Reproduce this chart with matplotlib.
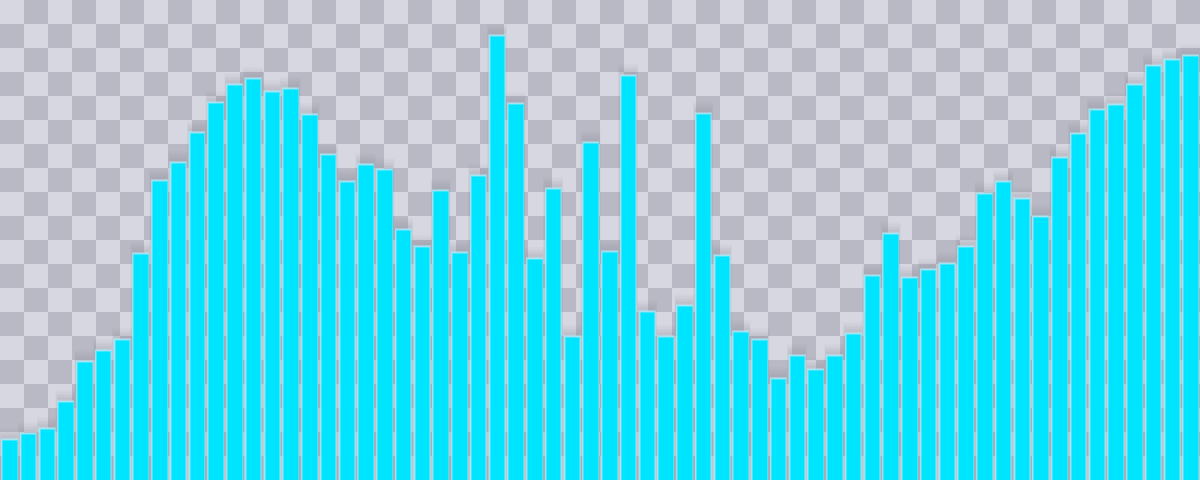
import numpy as np
import matplotlib
matplotlib.use('Agg')
import matplotlib.pyplot as plt

# bar heights (0 = bottom edge, 480 = top edge)
values = [40, 46, 51, 78, 118, 129, 140, 226, 299, 317, 347, 377, 395, 401, 388, 391,
          365, 325, 298, 315, 310, 250, 233, 289, 227, 304, 444, 376, 221, 291, 143, 337,
          228, 404, 168, 143, 174, 366, 224, 148, 140, 101, 124, 110, 124, 146, 204, 246,
          202, 210, 216, 233, 286, 298, 281, 263, 322, 346, 370, 375, 395, 414, 420, 424]
idx = np.arange(len(values))
vals = np.array(values)

bar_color = '#00e5ff'
glow_color = '#a6ecf8'
light_sq = '#d7d7e1'
dark_sq = '#b9b9c5'

fig = plt.figure(figsize=(12, 4.8), dpi=100)

# transparency checkerboard behind the chart
bg = fig.add_axes([0, 0, 1, 1])
rows, cols = 20, 50
checker = (np.indices((rows, cols)).sum(axis=0) % 2)
bg.imshow(checker, cmap=matplotlib.colors.ListedColormap([light_sq, dark_sq]),
          extent=(0, 1200, 480, 0), interpolation='nearest', aspect='auto')
bg.set_axis_off()

ax = fig.add_axes([0, 0, 1, 1])
ax.patch.set_alpha(0)

# soft grey shadow above the bars
for k in range(6, 0, -1):
    ax.bar(idx, vals + 2 + k * 1.6, width=0.80 + k * 0.05,
           color='#8a8a98', alpha=0.05, linewidth=0)

# pale cyan glow around the bars
for k in range(3, 0, -1):
    ax.bar(idx, vals + k * 0.6, width=0.77 + k * 0.05,
           color=glow_color, alpha=0.45, linewidth=0)

ax.bar(idx, vals, width=0.77, color=bar_color, edgecolor='#3ee9ff', linewidth=0.5)

ax.set_xlim(-0.5, len(values) - 0.5)
ax.set_ylim(0, 480)
ax.set_axis_off()

fig.savefig('out.png', dpi=100)
